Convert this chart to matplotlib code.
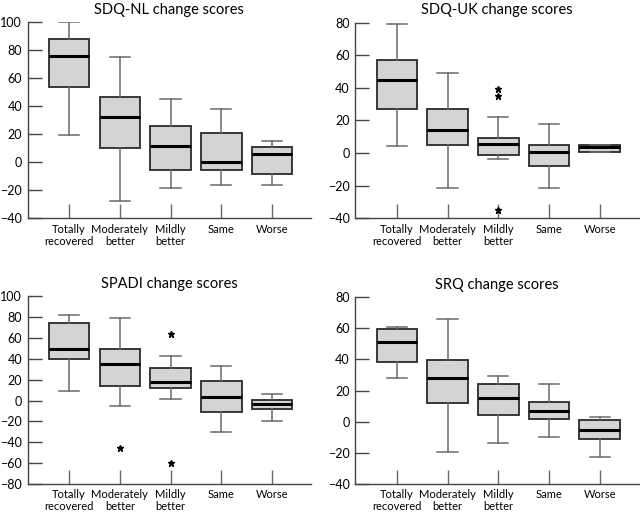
import numpy as np
import matplotlib.pyplot as plt

plt.rcParams['font.family'] = ['Lato', 'DejaVu Sans']

categories = ["Totally\nrecovered", "Moderately\nbetter", "Mildly\nbetter", "Same", "Worse"]

# box stats per panel: whisker low, Q1, median, Q3, whisker high
sdq_nl_lo = [19.5, -27.9, -18.1, -16.4, -16.4]
sdq_nl_q1 = [54.0, 9.8, -5.7, -5.7, -8.6]
sdq_nl_med = [76.0, 32.1, 11.7, 0.0, 6.0]
sdq_nl_q3 = [88.3, 46.9, 25.7, 20.7, 10.7]
sdq_nl_hi = [100.0, 75.5, 45.0, 38.1, 15.0]
sdq_nl_out = [[], [], [], [], []]

sdq_uk_lo = [4.6, -21.2, -3.6, -21.2, 0.9]
sdq_uk_q1 = [27.1, 5.0, -1.4, -7.7, 0.9]
sdq_uk_med = [44.6, 14.2, 5.4, 0.9, 3.4]
sdq_uk_q3 = [56.9, 26.8, 9.5, 4.8, 5.2]
sdq_uk_hi = [79.0, 48.9, 22.4, 18.1, 5.2]
sdq_uk_out = [[], [], [39.5, 35.2, -34.7], [], []]

spadi_lo = [9.5, -5.4, 1.0, -29.9, -19.5]
spadi_q1 = [40.1, 13.5, 12.0, -11.2, -7.9]
spadi_med = [49.3, 35.2, 17.8, 3.7, -3.0]
spadi_q3 = [74.0, 49.8, 31.2, 18.4, 0.4]
spadi_hi = [82.3, 78.9, 42.5, 33.4, 6.5]
spadi_out = [[], [-45.8], [63.6, -59.8], [], []]

srq_lo = [27.9, -19.2, -13.8, -10.0, -22.5]
srq_q1 = [38.7, 12.3, 4.6, 1.7, -11.2]
srq_med = [51.2, 28.1, 15.0, 7.2, -5.5]
srq_q3 = [59.8, 39.9, 24.2, 12.5, 1.1]
srq_hi = [61.0, 65.9, 29.3, 24.0, 2.9]
srq_out = [[], [], [], [], []]

panels = [
    ("SDQ-NL change scores", sdq_nl_lo, sdq_nl_q1, sdq_nl_med, sdq_nl_q3, sdq_nl_hi, sdq_nl_out,
     (-40, 100), [0.043, 0.578, 0.443, 0.379]),
    ("SDQ-UK change scores", sdq_uk_lo, sdq_uk_q1, sdq_uk_med, sdq_uk_q3, sdq_uk_hi, sdq_uk_out,
     (-40, 80), [0.555, 0.578, 0.443, 0.378]),
    ("SPADI change scores", spadi_lo, spadi_q1, spadi_med, spadi_q3, spadi_hi, spadi_out,
     (-80, 100), [0.043, 0.064, 0.443, 0.363]),
    ("SRQ change scores", srq_lo, srq_q1, srq_med, srq_q3, srq_hi, srq_out,
     (-40, 80), [0.555, 0.064, 0.443, 0.361]),
]

fig = plt.figure(figsize=(6.4, 5.17), dpi=100)

for title, lo, q1, med, q3, hi, out, ylim, rect in panels:
    ax = fig.add_axes(rect)
    stats = []
    for i in range(5):
        stats.append(dict(whislo=lo[i], q1=q1[i], med=med[i], q3=q3[i], whishi=hi[i], fliers=out[i]))
    ax.bxp(stats, positions=[1, 2, 3, 4, 5], widths=0.8, patch_artist=True,
           boxprops=dict(facecolor="#d4d4d4", edgecolor="#2a2a2a", linewidth=1.3),
           medianprops=dict(color="black", linewidth=2.2),
           whiskerprops=dict(color="#6a6a6a", linewidth=1.1),
           capprops=dict(color="#6a6a6a", linewidth=1.1),
           capwidths=0.4,
           flierprops=dict(marker="*", markerfacecolor="black", markeredgecolor="black",
                           markersize=5, linestyle="none"))
    ax.set_xlim(0.18, 5.77)
    ax.set_ylim(*ylim)
    ax.set_yticks(np.arange(ylim[0], ylim[1] + 1, 20))
    ax.set_xticks([1, 2, 3, 4, 5])
    ax.set_xticklabels(categories, fontsize=8, linespacing=1.1)
    ax.spines["top"].set_visible(False)
    ax.spines["right"].set_visible(False)
    for s in ("left", "bottom"):
        ax.spines[s].set_color("#444444")
        ax.spines[s].set_linewidth(1.0)
    ax.tick_params(axis="y", direction="in", length=10, width=1.0, color="#444444",
                   labelsize=9, pad=4)
    ax.tick_params(axis="x", direction="in", length=10, width=1.0, color="#6a6a6a", pad=4)
    ax.set_title(title, fontsize=10.5, pad=6)

fig.savefig("out.png", dpi=100)
